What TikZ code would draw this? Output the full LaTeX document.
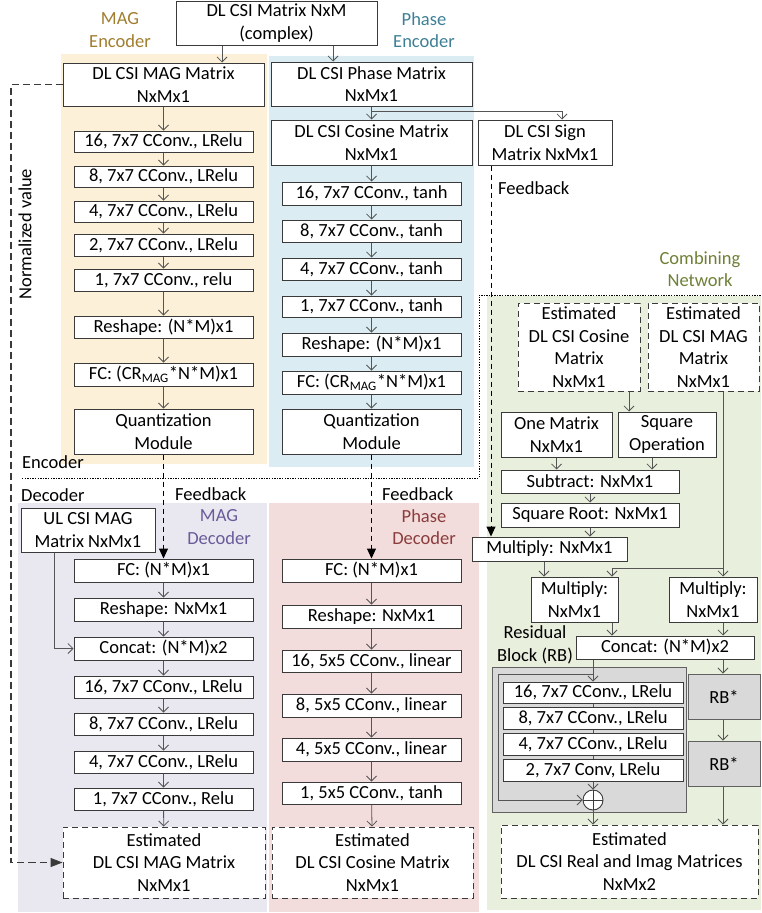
\documentclass[tikz,border=0pt]{standalone}
\usepackage{fontspec}
\setmainfont{Carlito}
\usetikzlibrary{arrows.meta}

\definecolor{bgmagenc}{HTML}{FDF0D8}
\definecolor{bgphenc}{HTML}{DBECF2}
\definecolor{bgmagdec}{HTML}{E9E7F0}
\definecolor{bgphdec}{HTML}{F2DDDC}
\definecolor{bgcomb}{HTML}{E8EFDD}
\definecolor{rbgray}{HTML}{D9D9D9}
\definecolor{edge}{HTML}{3A3A3A}
\definecolor{wire}{HTML}{555555}
\definecolor{lblmag}{HTML}{A17D2E}
\definecolor{lblph}{HTML}{3E7F96}
\definecolor{lblcomb}{HTML}{6E8036}
\definecolor{lblmagdec}{HTML}{6A5B9A}
\definecolor{lblphdec}{HTML}{8B3C3C}

\newcommand\dgfont{\fontsize{18.5}{22.5}\selectfont}

% box given by its corners: [style]{name}{x1}{y1}{x2}{y2}{text}
\newcommand\mkbox[7][]{%
  \node[blk,#1,minimum width={(#5)-(#3)},minimum height={(#6)-(#4)}]
    (#2) at ({((#3)+(#5))/2},{((#4)+(#6))/2}) {#7};}

\tikzset{
  blk/.style={draw=edge,fill=white,line width=1pt,inner sep=0pt,
    align=center,font=\dgfont},
  dashbox/.style={dash pattern=on 6pt off 4pt},
  graybox/.style={fill=rbgray,draw=edge!80},
  lbl/.style={inner sep=0pt,align=center,font=\dgfont},
  wire/.style={draw=wire,line width=0.8pt},
  arr/.style={wire,-{Straight Barb[length=5pt,width=10pt]}},
  fb/.style={draw=black,line width=1pt,dash pattern=on 5pt off 4pt,
    -{Triangle[length=10pt,width=9pt]}},
  nv/.style={draw=edge,line width=1.1pt,dash pattern=on 7pt off 4pt,
    -{Triangle[length=12pt,width=9pt]}},
  sep/.style={draw=black,line width=1pt,dash pattern=on 1.3pt off 1.3pt},
}

\begin{document}
\begin{tikzpicture}[x=1pt,y=-1pt]
\useasboundingbox (0,0) rectangle (761,913);

% section backgrounds
\fill[bgmagenc] (61,54) rectangle (267,464);
\fill[bgphenc] (269,56) rectangle (474,467);
\fill[bgmagdec] (18,503) rectangle (267,912);
\fill[bgphdec] (269,503) rectangle (479,912);
\fill[bgcomb] (487,296) rectangle (761,910);

% section titles
\node[lbl,text=lblmag] (tmagenc) at (120,30) {MAG\\Encoder};
\node[lbl,text=lblph] (tphenc) at (424,30) {Phase\\Encoder};
\node[lbl,text=lblcomb] (tcomb) at (700,269) {Combining\\Network};
\node[lbl,text=lblmagdec] (tmagdec) at (219,527) {MAG\\Decoder};
\node[lbl,text=lblphdec] (tphdec) at (424,527) {Phase\\Decoder};
\node[lbl,anchor=west] (tenc) at (22,462) {Encoder};
\node[lbl,anchor=west] (tdec) at (21,495) {Decoder};
\node[lbl,anchor=west] (fbmag) at (175,494) {Feedback};
\node[lbl,anchor=west] (fbph) at (382,494) {Feedback};
\node[lbl,anchor=west] (fbsg) at (498,188) {Feedback};
\node[lbl,rotate=90] (tnorm) at (25,234) {Normalized value};
\node[lbl] (trb) at (535,645) {Residual\\Block (RB)};

% encoder / decoder boundary
\coordinate (sA) at (22,478);
\coordinate (sB) at (479,478);
\coordinate (sC) at (479,295);
\coordinate (sD) at (761,295);
\path[sep] (sA) -- (sB) -- (sC) -- (sD);

% input
\mkbox{csi}{176}{1}{377}{45}{DL CSI Matrix NxM\\(complex)}

% MAG encoder
\mkbox{magm}{63}{63}{264}{106}{DL CSI MAG Matrix\\NxMx1}
\mkbox{me1}{74}{131}{253}{152}{16, 7x7 CConv., LRelu}
\mkbox{me2}{74}{166}{253}{187}{8, 7x7 CConv., LRelu}
\mkbox{me3}{74}{201}{253}{222}{4, 7x7 CConv., LRelu}
\mkbox{me4}{74}{234}{253}{256}{2, 7x7 CConv., LRelu}
\mkbox{me5}{74}{269}{253}{291}{1, 7x7 CConv., relu}
\mkbox{me6}{74}{316}{253}{338}{Reshape: (N*M)x1}
\mkbox{me7}{74}{363}{253}{386}{FC: (CR\textsubscript{MAG}*N*M)x1}
\mkbox{meq}{74}{409}{253}{454}{Quantization\\Module}

% phase encoder
\mkbox{phm}{271}{62}{472}{106}{DL CSI Phase Matrix\\NxMx1}
\mkbox{cosm}{271}{120}{472}{165}{DL CSI Cosine Matrix\\NxMx1}
\mkbox{sgnm}{478}{120}{612}{165}{DL CSI Sign\\Matrix NxMx1}
\mkbox{pe1}{282}{182}{461}{205}{16, 7x7 CConv., tanh}
\mkbox{pe2}{282}{220}{461}{242}{8, 7x7 CConv., tanh}
\mkbox{pe3}{282}{258}{461}{280}{4, 7x7 CConv., tanh}
\mkbox{pe4}{282}{296}{461}{317}{1, 7x7 CConv., tanh}
\mkbox{pe5}{282}{333}{461}{356}{Reshape: (N*M)x1}
\mkbox{pe6}{282}{371}{461}{394}{FC: (CR\textsubscript{MAG}*N*M)x1}
\mkbox{peq}{282}{409}{461}{454}{Quantization\\Module}

% MAG decoder
\mkbox{ul}{21}{508}{155}{552}{UL CSI MAG\\Matrix NxMx1}
\mkbox{md1}{74}{559}{253}{582}{FC: (N*M)x1}
\mkbox{md2}{74}{598}{253}{621}{Reshape: NxMx1}
\mkbox{md3}{74}{637}{253}{660}{Concat: (N*M)x2}
\mkbox{md4}{74}{676}{253}{698}{16, 7x7 CConv., LRelu}
\mkbox{md5}{74}{713}{253}{735}{8, 7x7 CConv., LRelu}
\mkbox{md6}{74}{751}{253}{773}{4, 7x7 CConv., LRelu}
\mkbox{md7}{74}{788}{253}{810}{1, 7x7 CConv., Relu}
\mkbox[dashbox]{mdest}{63}{827}{265}{898}{Estimated\\DL CSI MAG Matrix\\NxMx1}

% phase decoder
\mkbox{pd1}{282}{559}{461}{582}{FC: (N*M)x1}
\mkbox{pd2}{282}{605}{461}{628}{Reshape: NxMx1}
\mkbox{pd3}{282}{650}{461}{672}{16, 5x5 CConv., linear}
\mkbox{pd4}{282}{694}{461}{717}{8, 5x5 CConv., linear}
\mkbox{pd5}{282}{738}{461}{761}{4, 5x5 CConv., linear}
\mkbox{pd6}{282}{782}{461}{804}{1, 5x5 CConv., tanh}
\mkbox[dashbox]{pdest}{272}{827}{473}{898}{Estimated\\DL CSI Cosine Matrix\\NxMx1}

% combining network
\mkbox[dashbox]{estcos}{518}{303}{640}{391}{Estimated\\DL CSI Cosine\\Matrix\\NxMx1}
\mkbox[dashbox]{estmag}{648}{303}{759}{391}{Estimated\\DL CSI MAG\\Matrix\\NxMx1}
\mkbox{one}{501}{412}{612}{457}{One Matrix\\NxMx1}
\mkbox{sqop}{618}{412}{716}{457}{Square\\Operation}
\mkbox{sub}{501}{470}{679}{493}{Subtract: NxMx1}
\mkbox{sqrt}{501}{503}{679}{527}{Square Root: NxMx1}
\mkbox{mul}{472}{537}{627}{561}{Multiply: NxMx1}
\mkbox{mul1}{531}{577}{618}{622}{Multiply:\\NxMx1}
\mkbox{mul2}{669}{577}{757}{622}{Multiply:\\NxMx1}
\mkbox{cat}{576}{636}{754}{659}{Concat: (N*M)x2}
\mkbox[graybox]{rbout}{492}{667}{686}{812}{}
\mkbox{rb1}{503}{682}{683}{703}{16, 7x7 CConv., LRelu}
\mkbox{rb2}{503}{707}{683}{729}{8, 7x7 CConv., LRelu}
\mkbox{rb3}{503}{733}{683}{755}{4, 7x7 CConv., LRelu}
\mkbox{rb4}{503}{759}{683}{781}{2, 7x7 Conv, LRelu}
\mkbox[graybox]{rbs1}{688}{674}{760}{719}{RB*}
\mkbox[graybox]{rbs2}{688}{741}{760}{786}{RB*}
\mkbox[dashbox]{estri}{501}{825}{758}{898}{Estimated\\DL CSI Real and Imag Matrices\\NxMx2}

% x positions of off-centre connectors
\coordinate (xin1) at (222,0);
\coordinate (xin2) at (333,0);
\coordinate (xsg) at (562,0);
\coordinate (xfb) at (491,0);
\coordinate (xnv) at (11,0);
\coordinate (xul) at (54,0);
\coordinate (xc) at (629,0);
\coordinate (xq) at (652,0);
\coordinate (xm) at (544,0);
\coordinate (xg) at (723,0);
\coordinate (xr) at (612,0);
\coordinate (xs) at (593,0);
\coordinate (xl) at (498,0);
\coordinate (brA) at (371.5,111);
\coordinate (brB) at (723,568);
\coordinate (skp) at (593,674);

% encoder connectors
\draw[arr] (csi.south -| xin1) -- (magm.north -| xin1);
\draw[arr] (csi.south -| xin2) -- (phm.north -| xin2);
\draw[arr] (magm) -- (me1);
\foreach \a/\b in {me1/me2,me2/me3,me3/me4,me4/me5,me5/me6,me6/me7,me7/meq}
  \draw[arr] (\a) -- (\b);
\draw[arr] (phm) -- (cosm);
\draw[arr] (brA) -| (sgnm.north -| xsg);
\draw[arr] (cosm) -- (pe1);
\foreach \a/\b in {pe1/pe2,pe2/pe3,pe3/pe4,pe4/pe5,pe5/pe6,pe6/peq}
  \draw[arr] (\a) -- (\b);

% feedback and side paths
\draw[fb] (meq.south) -- (md1.north);
\draw[fb] (peq.south) -- (pd1.north);
\draw[fb] (sgnm.south -| xfb) -- (mul.north -| xfb);
\draw[nv] (magm.west) -- (magm.west -| xnv) -- (mdest.west -| xnv) -- (mdest.west);

% decoder connectors
\foreach \a/\b in {md1/md2,md2/md3,md3/md4,md4/md5,md5/md6,md6/md7,md7/mdest}
  \draw[arr] (\a) -- (\b);
\draw[arr] (ul.south -| xul) |- (md3.west);
\foreach \a/\b in {pd1/pd2,pd2/pd3,pd3/pd4,pd4/pd5,pd5/pd6,pd6/pdest}
  \draw[arr] (\a) -- (\b);

% combining network connectors
\draw[arr] (estcos.south -| xc) -- (sqop.north -| xc);
\draw[arr] (one.south) -- (one.south |- sub.north);
\draw[arr] (sqop.south -| xq) -- (sub.north -| xq);
\draw[arr] (sub.south) -- (sub.south |- sqrt.north);
\draw[arr] (sqrt.south) -- (sqrt.south |- mul.north);
\draw[arr] (mul.south -| xm) -- (mul1.north -| xm);
\draw[arr] (estmag.south -| xg) -- (mul2.north -| xg);
\draw[arr] (brB) -| (mul1.north -| xr);
\draw[arr] (mul1.south -| xr) -- (cat.north -| xr);
\draw[arr] (mul2.south -| xg) -- (cat.north -| xg);
\draw[arr] (cat.south -| xs) -- (rb1.north -| xs);
\draw[wire] (rb1.south -| xs) -- (rb2.north -| xs)
            (rb2.south -| xs) -- (rb3.north -| xs)
            (rb3.south -| xs) -- (rb4.north -| xs);
\node[circle,draw=edge,fill=white,line width=0.9pt,minimum size=20pt,inner sep=0pt] (sum) at (593,800) {};
\draw[edge,line width=0.9pt] (sum.north) -- (sum.south) (sum.west) -- (sum.east);
\draw[arr] (rb4.south -| xs) -- (sum.north);
\draw[arr] (skp) -- (skp -| xl) |- (sum.west);
\draw[arr] (sum.south) -- (estri.north -| xs);
\draw[arr] (cat.south -| xg) -- (rbs1.north -| xg);
\draw[arr] (rbs1.south -| xg) -- (rbs2.north -| xg);
\draw[arr] (rbs2.south -| xg) -- (estri.north -| xg);
\end{tikzpicture}
\end{document}
